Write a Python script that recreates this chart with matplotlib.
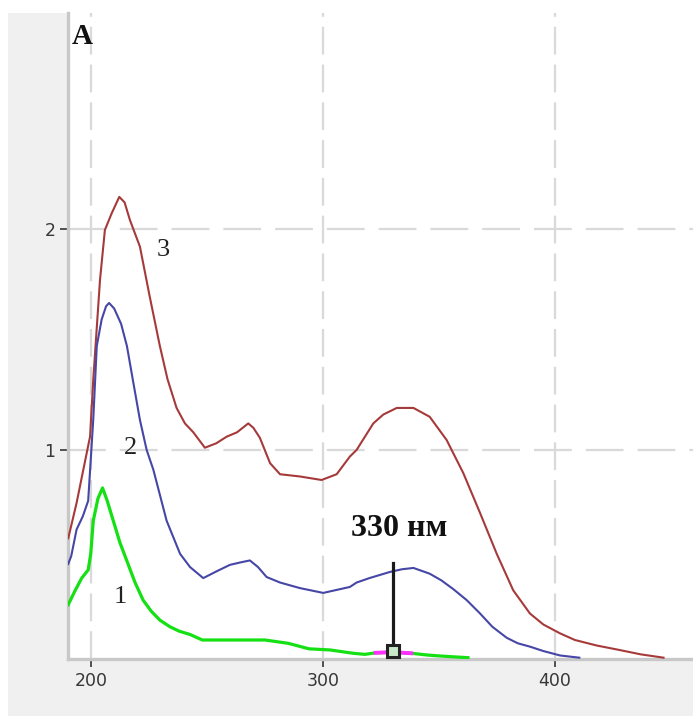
import matplotlib
matplotlib.use("Agg")
import matplotlib.pyplot as plt
from matplotlib.patches import Rectangle

# wavelength (nm) / absorbance
x3 = [190.2, 193.8, 196.5, 199.6, 201, 203.9, 206, 208.9, 212.2, 214.5, 216.8, 221.1, 225.4,
      229.7, 233, 236.9, 240.5, 244.1, 249.1, 254, 258.5, 263, 267.8, 270, 272.8, 277.2, 281.5,
      290, 299.4, 305.9, 311.6, 314.5, 321.7, 326, 331.8, 339, 346, 353.3, 360.5, 367.7, 374.9,
      382, 389.2, 395, 402.2, 408.6, 418, 427.7, 437, 446.8]
y3 = [0.60, 0.76, 0.90, 1.06, 1.32, 1.77, 1.995, 2.07, 2.145, 2.12, 2.04, 1.92, 1.69,
      1.47, 1.32, 1.19, 1.12, 1.08, 1.01, 1.03, 1.06, 1.08, 1.12, 1.10, 1.055, 0.94, 0.89,
      0.88, 0.864, 0.89, 0.97, 1.0, 1.12, 1.16, 1.19, 1.19, 1.15, 1.045, 0.895, 0.715, 0.53,
      0.365, 0.26, 0.21, 0.17, 0.14, 0.115, 0.095, 0.075, 0.06]

x2 = [190.2, 191.5, 193.8, 196.5, 198.8, 201, 202.5, 204.6, 206.5, 207.8, 210, 213, 215.5,
      218, 221.1, 224, 226.9, 232.6, 238.4, 242.7, 248.4, 254, 259.9, 264, 268.5, 272, 275.7,
      281.5, 290, 300.1, 311.6, 314.5, 320, 328.9, 334, 339, 346, 351, 356.2, 362, 367.7, 373,
      379.2, 384, 389.2, 395, 402.2, 410.5]
y2 = [0.484, 0.52, 0.64, 0.70, 0.77, 1.14, 1.47, 1.59, 1.65, 1.665, 1.64, 1.57, 1.47,
      1.32, 1.136, 1.0, 0.91, 0.68, 0.53, 0.47, 0.42, 0.45, 0.48, 0.49, 0.50, 0.47, 0.425,
      0.40, 0.375, 0.353, 0.38, 0.40, 0.42, 0.448, 0.46, 0.466, 0.44, 0.41, 0.37, 0.32, 0.26, 0.20,
      0.15, 0.125, 0.11, 0.09, 0.07, 0.06]

x1 = [190.2, 193, 196, 198.8, 199.9, 201, 203, 205, 207, 209.6, 212.5, 215.4, 219, 222.5,
      226, 229.7, 234, 238, 242.7, 248, 260, 275, 285, 294, 303, 313, 318, 322.7, 330, 338,
      345, 350, 356, 362.5]
y1 = [0.30, 0.36, 0.42, 0.457, 0.53, 0.68, 0.78, 0.828, 0.77, 0.68, 0.58, 0.50, 0.40, 0.32,
      0.27, 0.23, 0.20, 0.18, 0.165, 0.14, 0.14, 0.14, 0.125, 0.10, 0.095, 0.08, 0.075, 0.082,
      0.085, 0.08, 0.072, 0.068, 0.064, 0.06]

peak_nm = 330
peak_top = 0.49
xticks = [200, 300, 400]
yticks = [1, 2]

W, H = 693, 716
fig = plt.figure(figsize=(W / 100, H / 100), dpi=100, facecolor="white")
fig.patches.append(Rectangle((8 / W, 0), 1, (H - 13) / H, transform=fig.transFigure,
                             facecolor="#f0f0f0", edgecolor="none", zorder=-10))
ax = fig.add_axes([68 / W, (H - 659) / H, (W - 68) / W, (659 - 13) / H])
ax.set_zorder(1)
ax.set_facecolor("white")

ax.set_xlim(190.1, 459.5)
ax.set_ylim(0.054, 2.977)

# dashed grid
for v in xticks:
    ax.axvline(v, color="#d9d9d9", lw=1.6, ls=(0, (12.5, 4.5)), zorder=1)
for v in yticks:
    ax.axhline(v, color="#d9d9d9", lw=1.6, ls=(0, (17, 6.3)), zorder=1)

ax.plot(x3, y3, color="#a63a3a", lw=1.5, zorder=3)
ax.plot(x2, y2, color="#4646a6", lw=1.5, zorder=3)
ax.plot(x1, y1, color="#14e014", lw=2.3, zorder=3)

# marker at 330 nm
mx = [v for v in x1 if 322 <= v <= 338]
my = [y1[x1.index(v)] for v in mx]
ax.plot(mx, my, color="#ff30ff", lw=2.8, zorder=4)
ax.plot([peak_nm, peak_nm], [0.06, peak_top], color="#1a1a1a", lw=2.3, zorder=5)
ax.plot([peak_nm], [0.089], marker="s", ms=9, mfc="#c8e8c8", mec="#222222", mew=2.2, zorder=6)

ax.text(peak_nm + 3, 0.645, "330 нм", family="Liberation Serif", fontweight="bold",
        fontsize=23, ha="center", va="center", color="#111111")
ax.text(231, 1.905, "3", family="Liberation Serif", fontsize=19, ha="center", va="center", color="#222222")
ax.text(217.1, 1.01, "2", family="Liberation Serif", fontsize=19, ha="center", va="center", color="#222222")
ax.text(212.5, 0.335, "1", family="Liberation Serif", fontsize=19, ha="center", va="center", color="#222222")
ax.text(0.006, 0.985, "A", transform=ax.transAxes, family="Liberation Serif", fontweight="bold",
        fontsize=21, ha="left", va="top", color="#111111")

ax.set_xticks(xticks)
ax.set_yticks(yticks)
ax.tick_params(axis="both", direction="out", length=6, width=1.3, color="#444444",
               labelsize=12.5, labelcolor="#383838", pad=3)
for s in ["top", "right"]:
    ax.spines[s].set_visible(False)
for s in ["left", "bottom"]:
    ax.spines[s].set_color("#c8c8c8")
    ax.spines[s].set_linewidth(2.4)

fig.savefig("out.png", dpi=100, facecolor=fig.get_facecolor())
